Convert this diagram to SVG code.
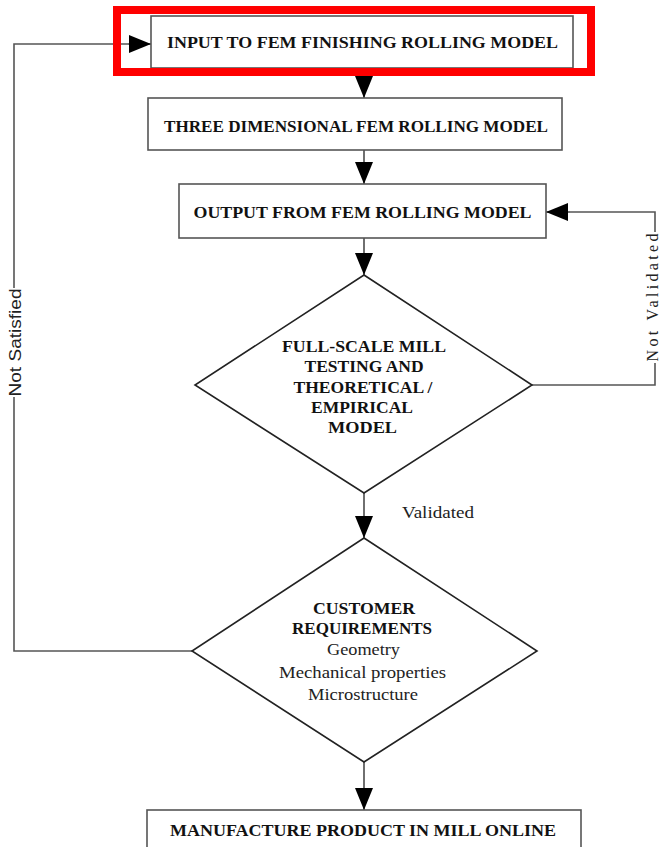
<svg xmlns="http://www.w3.org/2000/svg" width="660" height="847" viewBox="0 0 660 847">
<style>
.box{fill:#fff;stroke:#555;stroke-width:1.6}
.dia{fill:#fff;stroke:#222;stroke-width:1.6}
.con{fill:none;stroke:#555;stroke-width:1.6}
.arr{fill:none;stroke:#333;stroke-width:1.4}
.b{font-family:"Liberation Serif","Times New Roman",serif;font-weight:bold;font-size:16px;fill:#111;text-anchor:middle}
.r{font-family:"Liberation Serif","Times New Roman",serif;font-size:16px;fill:#222;text-anchor:middle}
.s{font-family:"Liberation Sans",Arial,sans-serif;font-size:16px;fill:#222;text-anchor:middle}
</style>
<defs>
<marker id="ah" viewBox="0 0 22 18" refX="22" refY="9" markerWidth="22" markerHeight="18" markerUnits="userSpaceOnUse" orient="auto">
<path d="M0,0 L22,9 L0,18 Z" fill="#000"/>
</marker>
</defs>
<rect x="0" y="0" width="660" height="847" fill="#fff"/>
<g id="connectors">
<line class="arr" x1="364" y1="68" x2="364" y2="98" marker-end="url(#ah)"/>
<line class="arr" x1="364" y1="150" x2="364" y2="184" marker-end="url(#ah)"/>
<line class="arr" x1="364" y1="238" x2="364" y2="275" marker-end="url(#ah)"/>
<line class="arr" x1="364" y1="493" x2="364" y2="538" marker-end="url(#ah)"/>
<line class="arr" x1="364" y1="762" x2="364" y2="810" marker-end="url(#ah)"/>
<polyline class="con" points="532,385 655,385 655,363"/>
<polyline class="con" points="655,232 655,212 570,212"/>
<line class="arr" x1="570" y1="212" x2="546" y2="212" marker-end="url(#ah)"/>
<polyline class="con" points="192,651 14,651 14,397"/>
<polyline class="con" points="14,288 14,44 128,44"/>
<line class="arr" x1="128" y1="44" x2="151" y2="44" marker-end="url(#ah)"/>
<text class="r" transform="translate(657.5,297.5) rotate(-90)" font-size="15" textLength="128" lengthAdjust="spacing">Not Validated</text>
<text class="s" transform="translate(21,342.5) rotate(-90)" textLength="108" lengthAdjust="spacingAndGlyphs">Not Satisfied</text>
<text class="r" x="438" y="518" textLength="72" lengthAdjust="spacingAndGlyphs">Validated</text>
</g>
<g id="node-input">
<rect class="box" x="151" y="16" width="422" height="52"/>
<text class="b" x="362.5" y="48" textLength="391" lengthAdjust="spacingAndGlyphs">INPUT TO FEM FINISHING ROLLING MODEL</text>
</g>
<g id="highlight">
<rect x="117" y="10" width="474" height="62" fill="none" stroke="#ff0000" stroke-width="8"/>
</g>
<g id="node-3d">
<rect class="box" x="148" y="98" width="414" height="52"/>
<text class="b" x="356" y="132" textLength="384" lengthAdjust="spacingAndGlyphs">THREE DIMENSIONAL FEM ROLLING MODEL</text>
</g>
<g id="node-output">
<rect class="box" x="179" y="184" width="367" height="54"/>
<text class="b" x="362.5" y="218" textLength="338" lengthAdjust="spacingAndGlyphs">OUTPUT FROM FEM ROLLING MODEL</text>
</g>
<g id="node-testing">
<polygon class="dia" points="364,275 532,385 364,493 195,385"/>
<text class="b" x="364" y="352" textLength="164" lengthAdjust="spacingAndGlyphs">FULL-SCALE MILL</text>
<text class="b" x="364" y="372" textLength="119" lengthAdjust="spacingAndGlyphs">TESTING AND</text>
<text class="b" x="363" y="393" textLength="139" lengthAdjust="spacingAndGlyphs">THEORETICAL /</text>
<text class="b" x="362" y="413" textLength="102" lengthAdjust="spacingAndGlyphs">EMPIRICAL</text>
<text class="b" x="362.5" y="433" textLength="69" lengthAdjust="spacingAndGlyphs">MODEL</text>
</g>
<g id="node-customer">
<polygon class="dia" points="364,538 537,651 364,762 192,651"/>
<text class="b" x="364" y="614" textLength="102" lengthAdjust="spacingAndGlyphs">CUSTOMER</text>
<text class="b" x="362" y="634" textLength="140" lengthAdjust="spacingAndGlyphs">REQUIREMENTS</text>
<text class="r" x="363.5" y="655" textLength="73" lengthAdjust="spacingAndGlyphs">Geometry</text>
<text class="r" x="362.5" y="678" textLength="167" lengthAdjust="spacingAndGlyphs">Mechanical properties</text>
<text class="r" x="363" y="700" textLength="110" lengthAdjust="spacingAndGlyphs">Microstructure</text>
</g>
<g id="node-manufacture">
<rect class="box" x="147" y="810" width="434" height="50"/>
<text class="b" x="363" y="836" textLength="386" lengthAdjust="spacingAndGlyphs">MANUFACTURE PRODUCT IN MILL ONLINE</text>
</g>
</svg>
